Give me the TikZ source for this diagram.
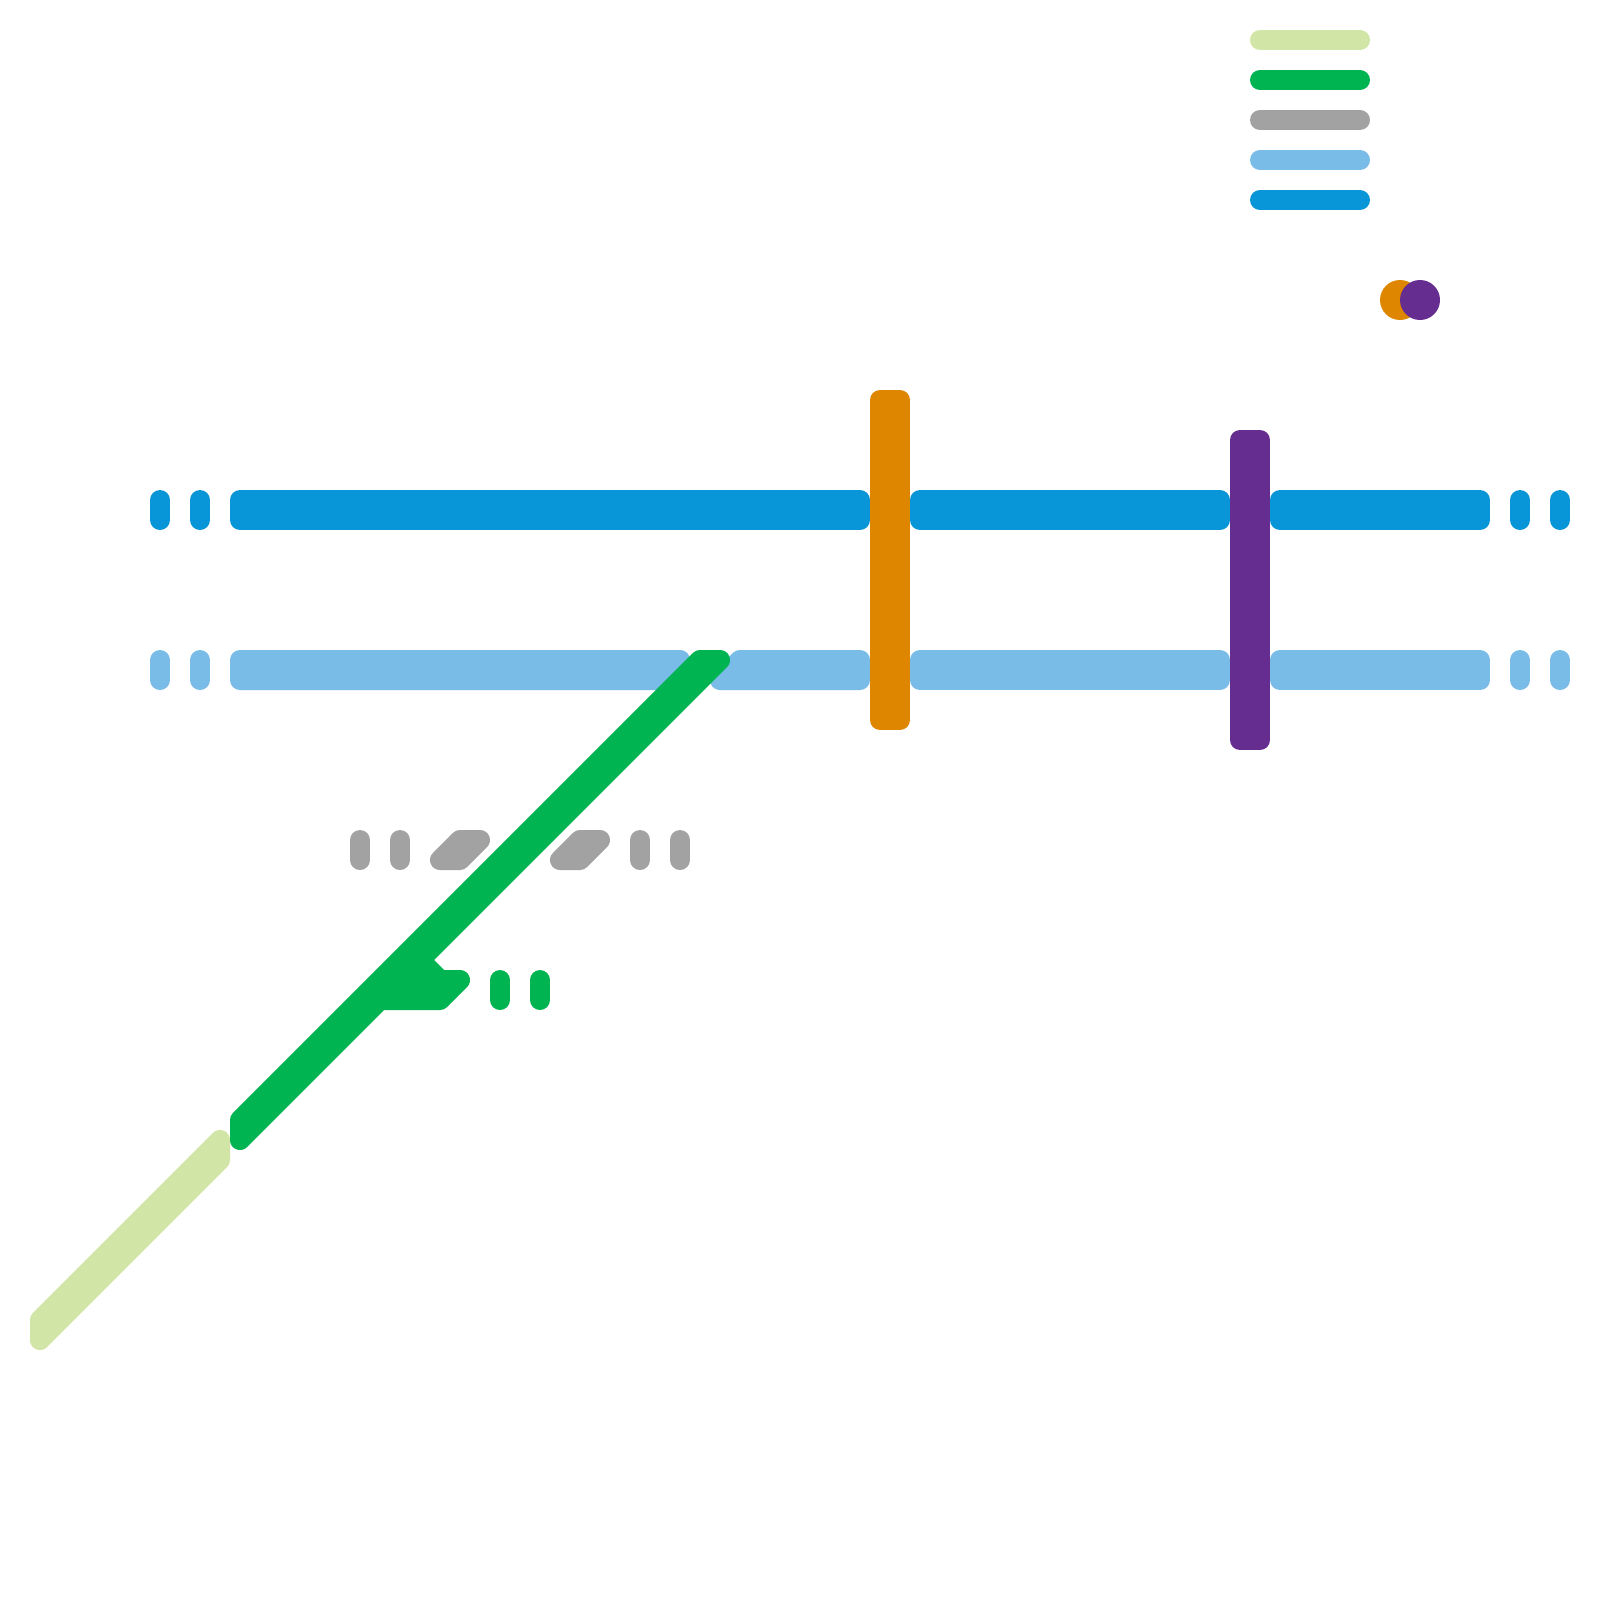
\documentclass[tikz,border=0pt]{standalone}
\definecolor{lgreen}{HTML}{D1E6A6}
\definecolor{dgreen}{HTML}{00B451}
\definecolor{lgray}{HTML}{A2A2A2}
\definecolor{lblue}{HTML}{7ABCE8}
\definecolor{dblue}{HTML}{0996D8}
\definecolor{orng}{HTML}{DF8600}
\definecolor{purp}{HTML}{662D91}
\tikzset{
  seg/.style={line width=20pt,line cap=round,line join=round,draw=#1,fill=#1},
  pill/.style={line width=20pt,line cap=round,draw=#1},
  dot/.style={fill=#1,draw=none}
}
\begin{document}
\begin{tikzpicture}[x=1pt,y=-1pt]
\useasboundingbox[fill=white] (0,0) rectangle (1600,1600);
% legend
\draw[pill=lgreen] (1260,40) -- (1360,40);
\draw[pill=dgreen] (1260,80) -- (1360,80);
\draw[pill=lgray] (1260,120) -- (1360,120);
\draw[pill=lblue] (1260,160) -- (1360,160);
\draw[pill=dblue] (1260,200) -- (1360,200);
\fill[dot=orng] (1400,300) circle (20);
\fill[dot=purp] (1420,300) circle (20);
% dark blue
\foreach \x in {160,200,1520,1560} \draw[pill=dblue] (\x,500) -- (\x,520);
\path[seg=dblue] (240,500) -- (860,500) -- (860,520) -- (240,520) -- cycle;
\path[seg=dblue] (920,500) -- (1220,500) -- (1220,520) -- (920,520) -- cycle;
\path[seg=dblue] (1280,500) -- (1480,500) -- (1480,520) -- (1280,520) -- cycle;
% light blue
\foreach \x in {160,200,1520,1560} \draw[pill=lblue] (\x,660) -- (\x,680);
\path[seg=lblue] (240,660) -- (680,660) -- (660,680) -- (240,680) -- cycle;
\path[seg=lblue] (740,660) -- (860,660) -- (860,680) -- (720,680) -- cycle;
\path[seg=lblue] (920,660) -- (1220,660) -- (1220,680) -- (920,680) -- cycle;
\path[seg=lblue] (1280,660) -- (1480,660) -- (1480,680) -- (1280,680) -- cycle;
% gray
\foreach \x in {360,400,640,680} \draw[pill=lgray] (\x,840) -- (\x,860);
\path[seg=lgray] (440,860) -- (460,840) -- (480,840) -- (460,860) -- cycle;
\path[seg=lgray] (560,860) -- (580,840) -- (600,840) -- (580,860) -- cycle;
% light green
\path[seg=lgreen] (40,1320) -- (220,1140) -- (220,1160) -- (40,1340) -- cycle;
% green
\foreach \x in {500,540} \draw[pill=dgreen] (\x,980) -- (\x,1000);
\path[seg=dgreen] (240,1120) -- (700,660) -- (720,660) -- (420,960) -- (440,980) -- (460,980) -- (440,1000) -- (380,1000) -- (240,1140) -- cycle;
% orange and purple
\path[seg=orng] (880,400) -- (900,400) -- (900,720) -- (880,720) -- cycle;
\path[seg=purp] (1240,440) -- (1260,440) -- (1260,740) -- (1240,740) -- cycle;
\end{tikzpicture}
\end{document}
